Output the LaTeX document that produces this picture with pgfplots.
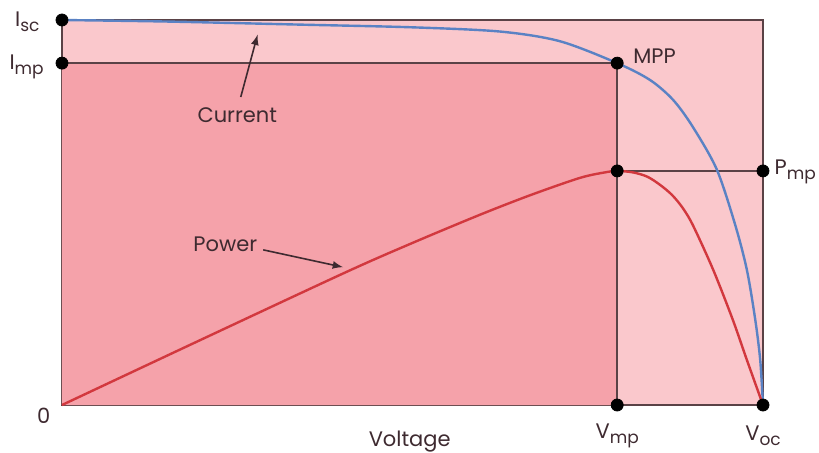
\documentclass[border=0pt]{standalone}
\usepackage{pgfplots}
\pgfplotsset{compat=1.18}
\usepackage{fontspec}
\setmainfont{Poppins}
\definecolor{bgpink}{HTML}{FAC8CC}
\definecolor{darkpink}{HTML}{F5A2AA}
\definecolor{curblue}{HTML}{5A82C4}
\definecolor{powred}{HTML}{D2383E}
\definecolor{linec}{HTML}{5A4246}
\definecolor{txt}{HTML}{3E2A30}
\newcommand{\sbs}[1]{\raisebox{-0.45ex}{\fontsize{8.5}{10}\selectfont #1}}
\begin{document}
\begin{tikzpicture}[x=1pt,y=1pt]
\useasboundingbox (-31pt,-23.5pt) rectangle (378.5pt,202.5pt);
\begin{axis}[
  at={(0pt,0pt)}, anchor=origin,
  scale only axis, width=350.5pt, height=192.5pt,
  xmin=0, xmax=1, ymin=0, ymax=1,
  axis line style={linec, line width=0.7pt},
  xtick=\empty, ytick=\empty,
  axis background/.style={fill=bgpink},
  clip=false,
  font=\fontsize{10.5}{12}\selectfont,
]
\addplot[fill=darkpink, draw=none] coordinates {(0,0) (0.792,0) (0.792,0.888) (0,0.888)} \closedcycle;
% guide lines
\addplot[linec, line width=0.7pt] coordinates {(0,0.888) (0.792,0.888)};
\addplot[linec, line width=0.7pt] coordinates {(0.792,0) (0.792,0.888)};
\addplot[linec, line width=0.7pt] coordinates {(0.792,0.608) (1,0.608)};
% current
\addplot[curblue, line width=1.2pt, smooth] coordinates {
(0,1.0) (0.15,0.996) (0.34,0.988) (0.50,0.981) (0.625,0.970)
(0.71,0.945) (0.792,0.888) (0.839,0.844) (0.872,0.792) (0.900,0.722)
(0.934,0.612) (0.960,0.470) (0.977,0.351) (0.989,0.221) (0.996,0.117) (1.0,0)};
% power
\addplot[powred, line width=1.2pt, smooth] coordinates {
(0,0) (0.2,0.171) (0.405,0.345) (0.5,0.421) (0.596,0.494) (0.668,0.545) (0.739,0.590)
(0.777,0.605) (0.793,0.608) (0.815,0.604) (0.835,0.593) (0.853,0.572) (0.870,0.546)
(0.885,0.513) (0.900,0.467) (0.929,0.351) (0.957,0.221) (0.977,0.117) (1.0,0)};
% dots
\addplot[only marks, mark=*, mark size=3pt, black] coordinates {
(0,1) (0,0.888) (0.792,0.888) (0.792,0.608) (1,0.608) (0.792,0) (1,0)};
% labels
\node[txt, anchor=east] at (axis cs:-0.022,0.995) {I\sbs{sc}};
\node[txt, anchor=east] at (axis cs:-0.016,0.878) {I\sbs{mp}};
\node[txt] at (axis cs:-0.026,-0.028) {0};
\node[txt] at (axis cs:0.496,-0.095) {Voltage};
\node[txt] at (axis cs:0.792,-0.080) {V\sbs{mp}};
\node[txt] at (axis cs:1.0,-0.080) {V\sbs{oc}};
\node[txt, anchor=west] at (axis cs:0.805,0.905) {MPP};
\node[txt, anchor=west, inner sep=0pt] at (axis cs:1.016,0.605) {P\sbs{mp}};
\node[txt] at (axis cs:0.250,0.753) {Current};
\node[txt] at (axis cs:0.233,0.418) {Power};
\draw[txt, line width=0.8pt, -latex] (axis cs:0.255,0.80) -- (axis cs:0.279,0.962);
\draw[txt, line width=0.8pt, -latex] (axis cs:0.287,0.403) -- (axis cs:0.401,0.358);
\end{axis}
\end{tikzpicture}
\end{document}
